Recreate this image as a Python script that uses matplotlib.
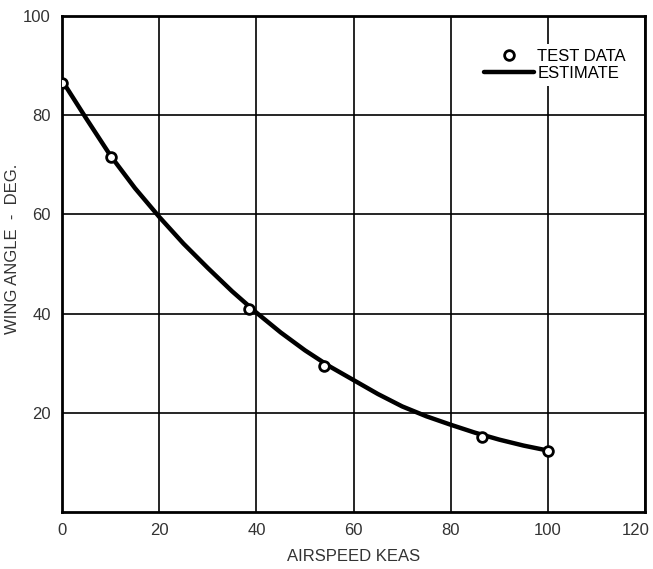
import matplotlib.pyplot as plt
import matplotlib.transforms as mtransforms
import numpy as np

# test data points
test_speed = [0, 10, 38.5, 54, 86.5, 100]
test_angle = [86.5, 71.5, 41.0, 29.5, 15.2, 12.4]

# estimate curve
est_speed = [0, 5, 10, 15, 20, 25, 30, 35, 40, 45, 50, 55, 60, 65, 70, 75, 80, 85, 90, 95, 100]
est_angle = [87.0, 79.3, 71.8, 65.3, 59.5, 54.1, 49.2, 44.5, 40.2, 36.2, 32.6, 29.4,
             26.6, 23.8, 21.3, 19.3, 17.6, 16.0, 14.6, 13.4, 12.4]

plt.rcParams['font.family'] = ['Liberation Sans', 'DejaVu Sans']

fig = plt.figure(figsize=(6.53, 5.69), dpi=100)
ax = fig.add_axes([0.095, 0.1, 0.893, 0.872])

ax.plot(est_speed, est_angle, color='black', lw=3.2, solid_capstyle='round',
        solid_joinstyle='round', label='ESTIMATE', zorder=3)
ax.plot(test_speed, test_angle, 'o', ms=7, mfc='white', mec='black', mew=2,
        label='TEST DATA', zorder=4)

ax.set_xlim(0, 120)
ax.set_ylim(0, 100)
ax.set_xticks([0, 20, 40, 60, 80, 100, 120])
ax.set_yticks([20, 40, 60, 80, 100])
ax.grid(True, color='black', lw=1.2)
ax.set_axisbelow(True)
ax.tick_params(length=0, labelsize=12, pad=8, colors='#333333')
for s in ax.spines.values():
    s.set_linewidth(2)

# nudge the last x label so it stays inside the figure
fig.canvas.draw()
last = ax.get_xticklabels()[-1]
last.set_transform(last.get_transform() +
                   mtransforms.ScaledTranslation(-9 / 100, 0, fig.dpi_scale_trans))

ax.set_xlabel('AIRSPEED KEAS', fontsize=12, color='#333333', labelpad=8)
ax.set_ylabel('WING ANGLE  -  DEG.', fontsize=12, color='#333333')
ax.yaxis.set_label_coords(-0.072, 0.53)

h, l = ax.get_legend_handles_labels()
leg = ax.legend(h[::-1], l[::-1], loc='upper right', bbox_to_anchor=(0.99, 0.96),
                frameon=True, fontsize=12, handlelength=3, borderpad=0.3,
                labelspacing=0.1, handletextpad=0.2)
leg.get_frame().set_edgecolor('none')
leg.get_frame().set_facecolor('white')
leg.get_frame().set_alpha(1)

fig.savefig('out.png', dpi=100)
